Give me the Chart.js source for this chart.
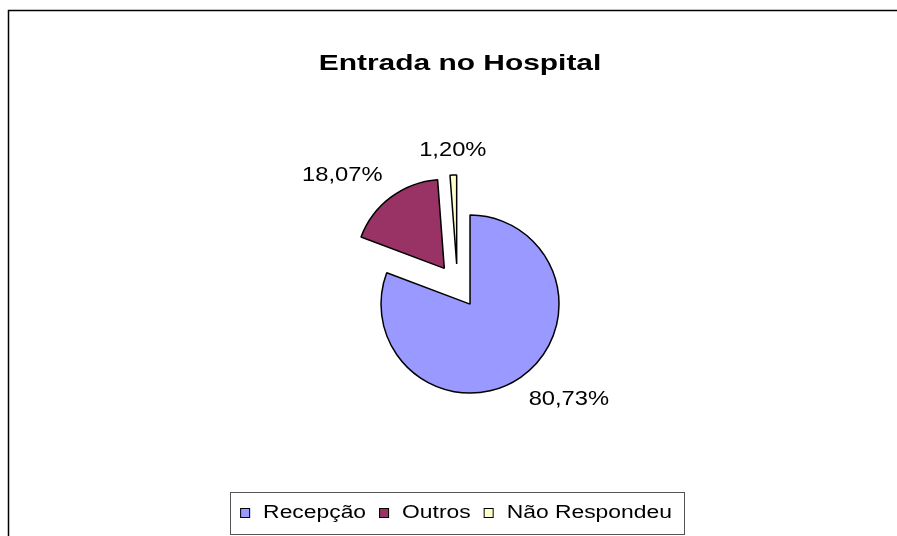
<!DOCTYPE html>
<html>
<head>
<meta charset="utf-8">
<script src="https://cdn.jsdelivr.net/npm/chart.js@4/dist/chart.umd.min.js"></script>
<style>
  html, body { margin: 0; padding: 0; background: #fff; }
  canvas { display: block; }
</style>
</head>
<body>
<canvas id="pie" width="897" height="536"></canvas>
<script>
const title = 'Entrada no Hospital';
const categories = ['Recepção', 'Outros', 'Não Respondeu'];
const values = [80.73, 18.07, 1.20];
const colors = ['#9999FF', '#993366', '#FFFFCC'];

const FONT = '"Liberation Sans", Arial, sans-serif';
const EXPLODE = 22; // px every slice is pulled out

// text in the picture is wider than plain Arial, so stretch it a bit
function wideText(ctx, text, x, y, align, baseline, sx) {
  ctx.save();
  ctx.textAlign = 'left';
  ctx.textBaseline = baseline;
  const w = ctx.measureText(text).width * sx;
  let left = x;
  if (align === 'center') left = x - w / 2;
  else if (align === 'right') left = x - w;
  ctx.translate(left, y);
  ctx.scale(sx, 1);
  ctx.fillText(text, 0, 0);
  ctx.restore();
  return w;
}

function pct(v) {
  return v.toFixed(2).replace('.', ',') + '%';
}

// chart.js "offset" also grows the radius of some slices,
// so move each arc by hand and let the arc draw itself
const explode = {
  id: 'explode',
  beforeDatasetDraw(chart, args) {
    const ctx = chart.ctx;
    args.meta.data.forEach(arc => {
      const mid = (arc.startAngle + arc.endAngle) / 2;
      ctx.save();
      ctx.translate(Math.cos(mid) * EXPLODE, Math.sin(mid) * EXPLODE);
      arc.draw(ctx, chart.chartArea);
      ctx.restore();
    });
    return false;
  }
};

const decor = {
  id: 'decor',
  afterDraw(chart) {
    const ctx = chart.ctx;
    ctx.save();

    // outer frame
    ctx.strokeStyle = '#000';
    ctx.lineWidth = 1.5;
    ctx.strokeRect(8.5, 10.5, 1000, 1000);

    // title
    ctx.fillStyle = '#000';
    ctx.font = 'bold 22px ' + FONT;
    wideText(ctx, title, 460, 70, 'center', 'alphabetic', 1.36);

    // percentage labels
    ctx.font = '21px ' + FONT;
    const meta = chart.getDatasetMeta(0);
    meta.data.forEach((arc, i) => {
      const p = arc.getProps(['x', 'y', 'startAngle', 'endAngle', 'outerRadius']);
      const mid = (p.startAngle + p.endAngle) / 2;
      const r = p.outerRadius + EXPLODE + 14;
      const cx = Math.cos(mid), cy = Math.sin(mid);
      const x = p.x + cx * r, y = p.y + cy * r;
      const align = Math.abs(cx) < 0.2 ? 'center' : (cx > 0 ? 'left' : 'right');
      const base = cy > 0 ? 'top' : 'bottom';
      wideText(ctx, pct(values[i]), x, y, align, base, 1.13);
    });

    // legend with box
    ctx.font = '18px ' + FONT;
    const sx = 1.27, sq = 10, gapIn = 13, gapOut = 13;
    const widths = categories.map(c => ctx.measureText(c).width * sx);
    let total = 0;
    widths.forEach((w, i) => { total += sq + gapIn + w + (i < widths.length - 1 ? gapOut : 0); });
    const centerX = 456;
    const boxL = Math.round(centerX - total / 2 - 10);
    const boxR = Math.round(centerX + total / 2 + 12);
    ctx.strokeStyle = '#555';
    ctx.lineWidth = 1;
    ctx.strokeRect(boxL + 0.5, 492.5, boxR - boxL, 42);
    let x = centerX - total / 2;
    categories.forEach((c, i) => {
      ctx.fillStyle = colors[i];
      ctx.fillRect(x, 508, sq, sq);
      ctx.strokeStyle = '#000';
      ctx.strokeRect(x + 0.5, 508.5, sq - 1, sq - 1);
      ctx.fillStyle = '#000';
      wideText(ctx, c, x + sq + gapIn, 518, 'left', 'alphabetic', sx);
      x += sq + gapIn + widths[i] + gapOut;
    });

    ctx.restore();
  }
};

new Chart(document.getElementById('pie'), {
  type: 'pie',
  data: {
    labels: categories,
    datasets: [{
      data: values,
      backgroundColor: colors,
      borderColor: '#000',
      borderWidth: 1.5,
      offset: 0
    }]
  },
  options: {
    responsive: false,
    devicePixelRatio: 1,
    animation: false,
    radius: 89,
    layout: { padding: { left: 40, right: 22, top: 100, bottom: 64 } },
    plugins: {
      legend: { display: false },
      title: { display: false },
      tooltip: { enabled: false }
    }
  },
  plugins: [explode, decor]
});
</script>
</body>
</html>
